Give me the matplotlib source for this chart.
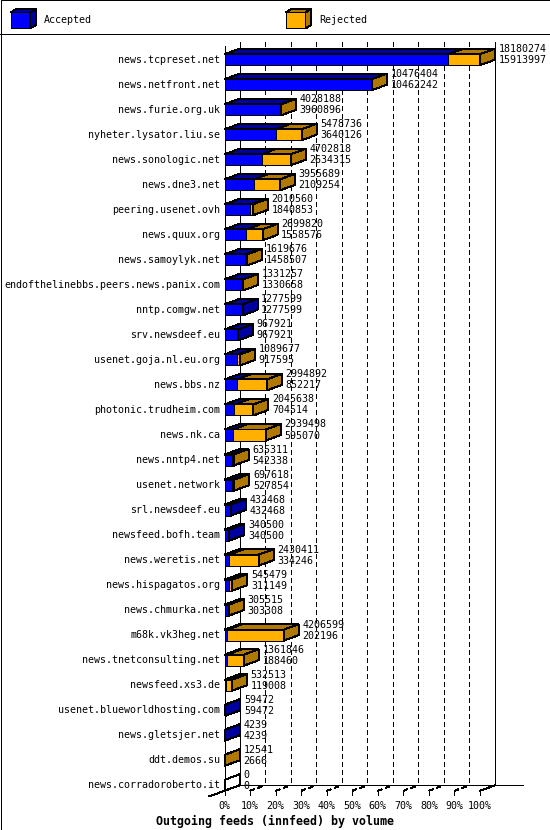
import numpy as np
import matplotlib.pyplot as plt
from matplotlib.patches import Polygon, Rectangle
from matplotlib.lines import Line2D

plt.rcParams['font.family'] = ['DejaVu Sans Mono']

hosts = [
    'news.tcpreset.net', 'news.netfront.net', 'news.furie.org.uk',
    'nyheter.lysator.liu.se', 'news.sonologic.net', 'news.dne3.net',
    'peering.usenet.ovh', 'news.quux.org', 'news.samoylyk.net',
    'endofthelinebbs.peers.news.panix.com', 'nntp.comgw.net', 'srv.newsdeef.eu',
    'usenet.goja.nl.eu.org', 'news.bbs.nz', 'photonic.trudheim.com',
    'news.nk.ca', 'news.nntp4.net', 'usenet.network', 'srl.newsdeef.eu',
    'newsfeed.bofh.team', 'news.weretis.net', 'news.hispagatos.org',
    'news.chmurka.net', 'm68k.vk3heg.net', 'news.tnetconsulting.net',
    'newsfeed.xs3.de', 'usenet.blueworldhosting.com', 'news.gletsjer.net',
    'ddt.demos.su', 'news.corradoroberto.it',
]
offered = [
    18180274, 10476404, 4028188, 5478736, 4702818, 3955689, 2010560, 2699820,
    1619676, 1331257, 1277599, 967921, 1089677, 2994892, 2045638, 2939498,
    635311, 697618, 432468, 340500, 2430411, 545479, 305515, 4206599,
    1361846, 532513, 59472, 4239, 12541, 0,
]
accepted = [
    15913997, 10462242, 3960896, 3640126, 2634315, 2109254, 1840853, 1558576,
    1458507, 1330658, 1277599, 967921, 917595, 852217, 704514, 595070,
    542338, 527854, 432468, 340500, 334246, 311149, 303308, 202196,
    188460, 119008, 59472, 4239, 2666, 0,
]
ticks = list(range(0, 101, 10))

BLUE = '#0000ff'
BLUE_D = '#0000a0'
ORANGE = '#ffb000'
BROWN = '#b07800'

W, H = 550, 830
X0, PX_PCT = 224.6, 2.554     # pixel of 0 %, pixels per percent
Y0, PX_ROW = 59.7, 25.02      # pixel of first row, pixels per row

fig = plt.figure(figsize=(W / 100, H / 100), dpi=100)
ax = fig.add_axes([0, 0, 1, 1])
ax.set_xlim(-X0 / PX_PCT, (W - X0) / PX_PCT)
ax.set_ylim((H - Y0) / PX_ROW, -Y0 / PX_ROW)
ax.axis('off')

dx = 15 / PX_PCT
dy = 5.5 / PX_ROW
hh = 5.5 / PX_ROW
LW = 0.72
FS = 7.2

n = len(hosts)
tot = np.array(offered) / max(offered) * 100
acc = np.array(accepted) / max(offered) * 100

floor_f = (n - 1) + hh
floor_b = floor_f - dy
wall_top = (42 - Y0) / PX_ROW


def line(xs, ys, dashed=False, z=1):
    ls = (0, (5, 4)) if dashed else '-'
    ax.add_line(Line2D(xs, ys, color='black', lw=LW, ls=ls, zorder=z,
                       antialiased=False))


# back wall and floor
line([0, 0], [wall_top + 0.15, floor_f])
line([dx, dx], [wall_top, floor_b])
line([100 + dx, 100 + dx], [wall_top, floor_b])
line([dx, (523 - X0) / PX_PCT], [floor_b, floor_b])
line([-dx, dx], [floor_f + dy, floor_b])
line([100, 100 + dx], [floor_f, floor_b])
for p in ticks:
    line([p, p], [floor_f, floor_f + 4.5 / PX_ROW])
    ax.text(p, (805.6 - Y0) / PX_ROW, f'{p}%', ha='center', va='center',
            fontsize=FS)
    if 0 < p < 100:
        line([p + dx, p + dx], [wall_top, floor_b], dashed=True)
        line([p, p + dx], [floor_f, floor_b], dashed=True)


def face(pts, fc):
    ax.add_patch(Polygon(pts, closed=True, fc=fc, ec='black', lw=LW,
                         zorder=3, antialiased=False))


for i in range(n):
    a, t = acc[i], tot[i]
    y1, y2 = i - hh, i + hh
    if a > 0:
        face([(0, y1), (a, y1), (a, y2), (0, y2)], BLUE)
        face([(0, y1), (a, y1), (a + dx, y1 - dy), (dx, y1 - dy)], BLUE_D)
    if t > a:
        face([(a, y1), (t, y1), (t, y2), (a, y2)], ORANGE)
        face([(a, y1), (t, y1), (t + dx, y1 - dy), (a + dx, y1 - dy)], BROWN)
    side = BROWN if t > a else (BLUE_D if t > 0 else 'white')
    face([(t, y1), (t + dx, y1 - dy), (t + dx, y2 - dy), (t, y2)], side)

    ax.text(-1.8, i, hosts[i], ha='right', va='center', fontsize=FS, zorder=4)
    ax.text(t + dx + 1.4, i - 0.42, str(offered[i]), ha='left', va='center',
            fontsize=FS, zorder=4)
    ax.text(t + dx + 1.4, i + 0.02, str(accepted[i]), ha='left', va='center',
            fontsize=FS, zorder=4)

fig.text(0.5, 1 - 821 / H, 'Outgoing feeds (innfeed) by volume',
         ha='center', va='center', fontsize=8.4, fontweight='bold')

# legend strip
lg = fig.add_axes([0, 1 - 35 / H, 1, 35 / H])
lg.set_xlim(0, W)
lg.set_ylim(35, 0)
lg.axis('off')


def cube(x, y, w, h, fc, dc, d_x=5.5, d_y=3.5):
    for pts, c in [([(x, y), (x + w, y), (x + w, y + h), (x, y + h)], fc),
                   ([(x, y), (x + d_x, y - d_y), (x + w + d_x, y - d_y), (x + w, y)], dc),
                   ([(x + w, y), (x + w + d_x, y - d_y), (x + w + d_x, y + h - d_y), (x + w, y + h)], dc)]:
        lg.add_patch(Polygon(pts, closed=True, fc=c, ec='black', lw=LW,
                             antialiased=False))


cube(10.7, 12.5, 19.5, 16, BLUE, BLUE_D)
lg.text(44, 20, 'Accepted', ha='left', va='center', fontsize=FS)
cube(286, 12.5, 19.5, 16, ORANGE, BROWN)
lg.text(319, 20, 'Rejected', ha='left', va='center', fontsize=FS)

fig.add_artist(Line2D([0, 1], [1 - 34.5 / H, 1 - 34.5 / H], color='black',
                      lw=LW, transform=fig.transFigure))
fig.add_artist(Rectangle((0.5 / W, 0.5 / H), 1 - 1 / W, 1 - 1 / H,
                         transform=fig.transFigure, fill=False,
                         ec='black', lw=LW))

fig.savefig('out.png', dpi=100)
